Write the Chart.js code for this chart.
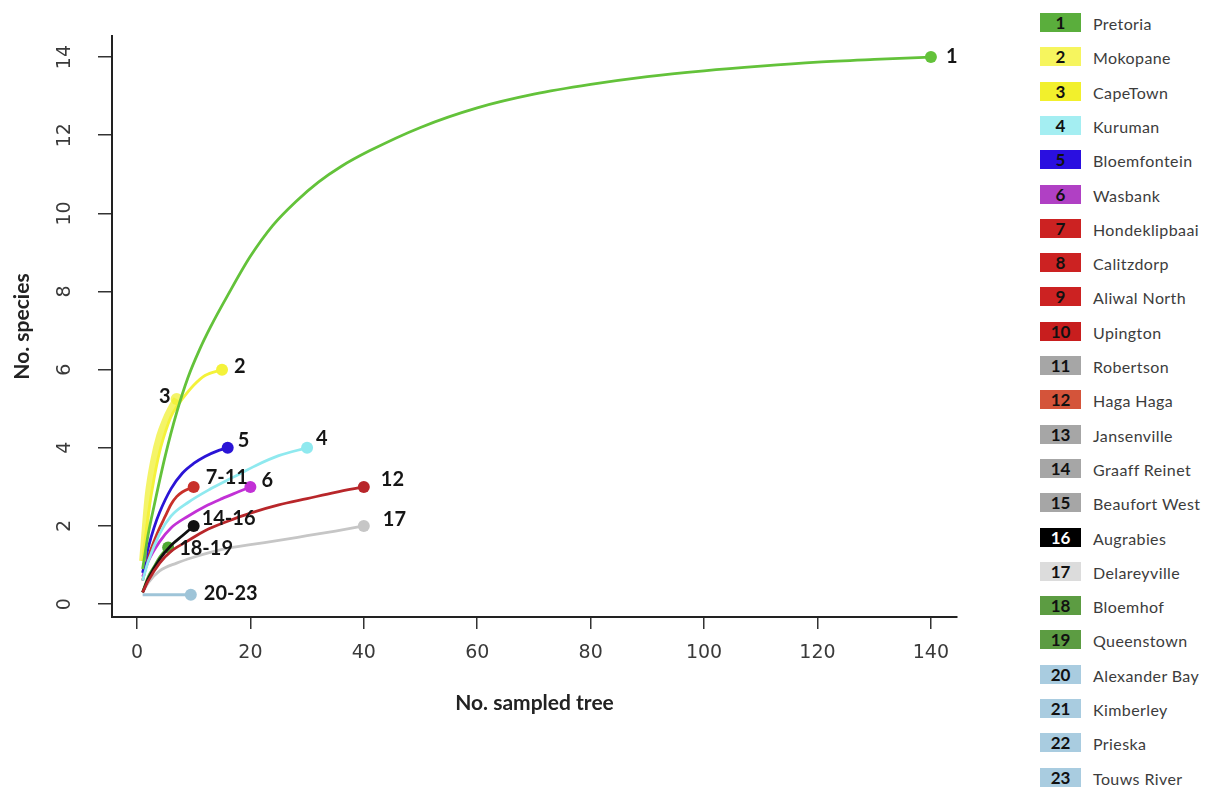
<!DOCTYPE html>
<html>
<head>
<meta charset="utf-8">
<script src="https://cdn.jsdelivr.net/npm/chart.js@4.4.1/dist/chart.umd.min.js"></script>
<style>
  html, body { margin: 0; padding: 0; background: #fff; }
  #wrap { position: relative; width: 1220px; height: 789px; overflow: hidden; }
  #chart { position: absolute; left: 0; top: 0; }
  #legend { position: absolute; left: 1040px; top: 0; width: 180px; height: 789px; }
  .row { position: absolute; left: 0; width: 180px; height: 19px; }
  .box { position: absolute; left: 0; top: 0; width: 41px; height: 19px; text-align: center;
         font: bold 17px Lato, sans-serif; line-height: 19px; }
  .name { position: absolute; left: 53px; top: 1px; font: 16px Lato, sans-serif; line-height: 19px;
          color: #3c3c3c; white-space: nowrap; letter-spacing: 0.4px; }
</style>
</head>
<body>
<div id="wrap">
  <canvas id="chart" width="1030" height="789"></canvas>
  <div id="legend"></div>
</div>
<script>
// curves: [no. sampled trees, no. species]
const curve1 = [[1, 0.9], [2, 1.8], [3, 2.5], [5, 3.8], [7, 4.9], [9, 5.8], [11, 6.5], [13, 7.1], [16, 7.9],
  [20, 8.9], [24, 9.7], [28, 10.3], [32, 10.8], [36, 11.2], [41, 11.6], [50, 12.2], [60, 12.7], [70, 13.05],
  [80, 13.3], [90, 13.5], [100, 13.65], [110, 13.77], [120, 13.87], [130, 13.94], [140, 14]];
const curve2 = [[1, 1.1], [2, 2.3], [3, 3.2], [4, 3.9], [5, 4.4], [6, 4.8], [7, 5.05], [8, 5.25], [10, 5.6], [12, 5.85], [15, 6]];
const curve3 = [[1, 1.1], [1.5, 2], [2, 2.8], [3, 3.7], [4, 4.3], [5, 4.7], [6, 5], [7, 5.25]];
const curve4 = [[1, 0.6], [2, 1.1], [4, 1.8], [6, 2.25], [9, 2.6], [13, 2.95], [17, 3.25], [21, 3.55], [25, 3.8], [30, 4]];
const curve5 = [[1, 0.8], [2, 1.45], [3, 1.95], [4, 2.35], [6, 2.95], [8, 3.35], [10, 3.6], [12, 3.78], [14, 3.91], [16, 4]];
const curve6 = [[1, 0.7], [2, 1.1], [4, 1.6], [6, 1.95], [9, 2.25], [12, 2.5], [15, 2.7], [18, 2.88], [20, 3]];
const curve7to11 = [[1, 0.6], [2, 1.2], [3, 1.6], [4, 1.95], [5, 2.25], [6, 2.55], [7, 2.75], [8, 2.87], [10, 3]];
const curve12 = [[1, 0.3], [2, 0.6], [4, 1.05], [6, 1.35], [9, 1.62], [12, 1.88], [16, 2.12], [20, 2.33], [25, 2.54],
  [30, 2.7], [35, 2.86], [40, 3]];
const curve14to16 = [[1, 0.3], [2, 0.65], [4, 1.15], [6, 1.5], [8, 1.75], [10, 2]];
const curve17 = [[1, 0.3], [2, 0.55], [4, 0.85], [7, 1.05], [10, 1.2], [15, 1.4], [20, 1.52], [25, 1.63], [30, 1.75],
  [35, 1.87], [40, 2]];
const curve18to19 = [[1, 0.3], [2, 0.7], [3, 0.95], [4, 1.2], [5.5, 1.45]];
const curve20to23 = [[1, 0.24], [9.5, 0.24]];

const curveLabels = ['1', '2', '3', '4', '5', '6', '7-11', '12', '14-16', '17', '18-19', '20-23'];
const curveData = [curve1, curve2, curve3, curve4, curve5, curve6, curve7to11, curve12, curve14to16, curve17, curve18to19, curve20to23];
const curveColors = ['#63c23a', '#f4f23a', 'rgba(240,240,40,0.7)', '#8fe9ef', '#2a14d6', '#c231d6', '#c8302a',
  '#b8262a', '#111111', '#c6c6c6', '#4fa832', '#9ec4d8'];
const curveWidths = [2.8, 2.8, 7, 2.8, 2.8, 2.8, 2.8, 2.8, 2.8, 2.8, 2.8, 2.8];
// label offset from the end marker: dx, dy, align
const labelOffsets = [[15, -1, 'left'], [12, -3, 'left'], [-6, -2, 'right'], [9, -9, 'left'], [10, -7, 'left'],
  [11, -6, 'left'], [12, -9, 'left'], [17, -7, 'left'], [8, -7, 'left'], [19, -6, 'left'], [11, 1, 'left'], [13, -1, 'left']];

const xTicks = [0, 20, 40, 60, 80, 100, 120, 140];
const yTicks = [0, 2, 4, 6, 8, 10, 12, 14];

// legend
const siteNumbers = ['1', '2', '3', '4', '5', '6', '7', '8', '9', '10', '11', '12', '13', '14', '15', '16', '17', '18', '19', '20', '21', '22', '23'];
const siteNames = ['Pretoria', 'Mokopane', 'CapeTown', 'Kuruman', 'Bloemfontein', 'Wasbank', 'Hondeklipbaai',
  'Calitzdorp', 'Aliwal North', 'Upington', 'Robertson', 'Haga Haga', 'Jansenville', 'Graaff Reinet',
  'Beaufort West', 'Augrabies', 'Delareyville', 'Bloemhof', 'Queenstown', 'Alexander Bay', 'Kimberley',
  'Prieska', 'Touws River'];
const siteColors = ['#5aae3c', '#f6f55e', '#f2f02c', '#a4eef2', '#2a0fe0', '#b040c4', '#cc2222', '#cc2222',
  '#cc2222', '#c81e1e', '#a6a6a6', '#d4543a', '#a6a6a6', '#a6a6a6', '#a6a6a6', '#000000', '#dcdcdc',
  '#5c9c42', '#5c9c42', '#a9cce0', '#a9cce0', '#a9cce0', '#a9cce0'];

const legendEl = document.getElementById('legend');
siteNames.forEach((name, i) => {
  const row = document.createElement('div');
  row.className = 'row';
  row.style.top = (13 + i * 34.3) + 'px';
  const box = document.createElement('div');
  box.className = 'box';
  box.style.background = siteColors[i];
  box.style.color = siteNumbers[i] === '16' ? '#fff' : '#111';
  box.textContent = siteNumbers[i];
  const label = document.createElement('div');
  label.className = 'name';
  label.textContent = name;
  row.appendChild(box);
  row.appendChild(label);
  legendEl.appendChild(row);
});

const endLabels = {
  id: 'endLabels',
  afterDatasetsDraw(chart) {
    const ctx = chart.ctx;
    ctx.save();
    ctx.font = 'bold 20px Lato';
    ctx.fillStyle = '#151515';
    ctx.textBaseline = 'middle';
    chart.data.datasets.forEach((ds, i) => {
      const meta = chart.getDatasetMeta(i);
      const pt = meta.data[meta.data.length - 1];
      const off = labelOffsets[i];
      ctx.textAlign = off[2];
      ctx.fillText(curveLabels[i], pt.x + off[0], pt.y + off[1]);
    });
    ctx.restore();
  }
};

const datasets = curveData.map((pts, i) => ({
  label: curveLabels[i],
  data: pts.map(p => ({ x: p[0], y: p[1] })),
  borderColor: curveColors[i],
  backgroundColor: curveColors[i],
  borderWidth: curveWidths[i],
  cubicInterpolationMode: 'monotone',
  pointRadius: (c) => (c.dataIndex === pts.length - 1 ? 6 : 0),
  pointBorderWidth: 0,
  fill: false
}));

new Chart(document.getElementById('chart'), {
  type: 'line',
  data: { datasets },
  options: {
    responsive: false,
    animation: false,
    events: [],
    layout: { padding: { left: 0, right: 73, top: 36, bottom: 0 } },
    plugins: { legend: { display: false }, tooltip: { enabled: false } },
    scales: {
      x: {
        type: 'linear',
        min: -4.4,
        max: 144.6,
        afterBuildTicks: (s) => { s.ticks = xTicks.map(v => ({ value: v })); },
        afterFit: (s) => { s.height = 172; },
        border: { display: true, color: '#222', width: 2 },
        grid: { drawOnChartArea: false, drawTicks: true, tickLength: 12, color: '#333', lineWidth: 1.5 },
        ticks: { color: '#3a3a3a', font: { family: 'DejaVu Sans', size: 19 }, padding: 13, maxRotation: 0 },
        title: { display: true, text: 'No. sampled tree', color: '#222',
          font: { family: 'Lato', size: 21, weight: 'bold' }, padding: { top: 0, bottom: 73 } }
      },
      y: {
        type: 'linear',
        min: -0.33,
        max: 14.54,
        afterBuildTicks: (s) => { s.ticks = yTicks.map(v => ({ value: v })); },
        afterFit: (s) => { s.width = 112; },
        border: { display: true, color: '#222', width: 2 },
        grid: { drawOnChartArea: false, drawTicks: true, tickLength: 14, color: '#333', lineWidth: 1.5 },
        ticks: { color: '#3a3a3a', font: { family: 'DejaVu Sans', size: 19 }, padding: 21,
          minRotation: 90, maxRotation: 90, crossAlign: 'center' },
        title: { display: true, text: 'No. species', color: '#222',
          font: { family: 'Lato', size: 21, weight: 'bold' }, padding: { top: 10, bottom: 0 } }
      }
    }
  },
  plugins: [endLabels]
});
</script>
</body>
</html>
